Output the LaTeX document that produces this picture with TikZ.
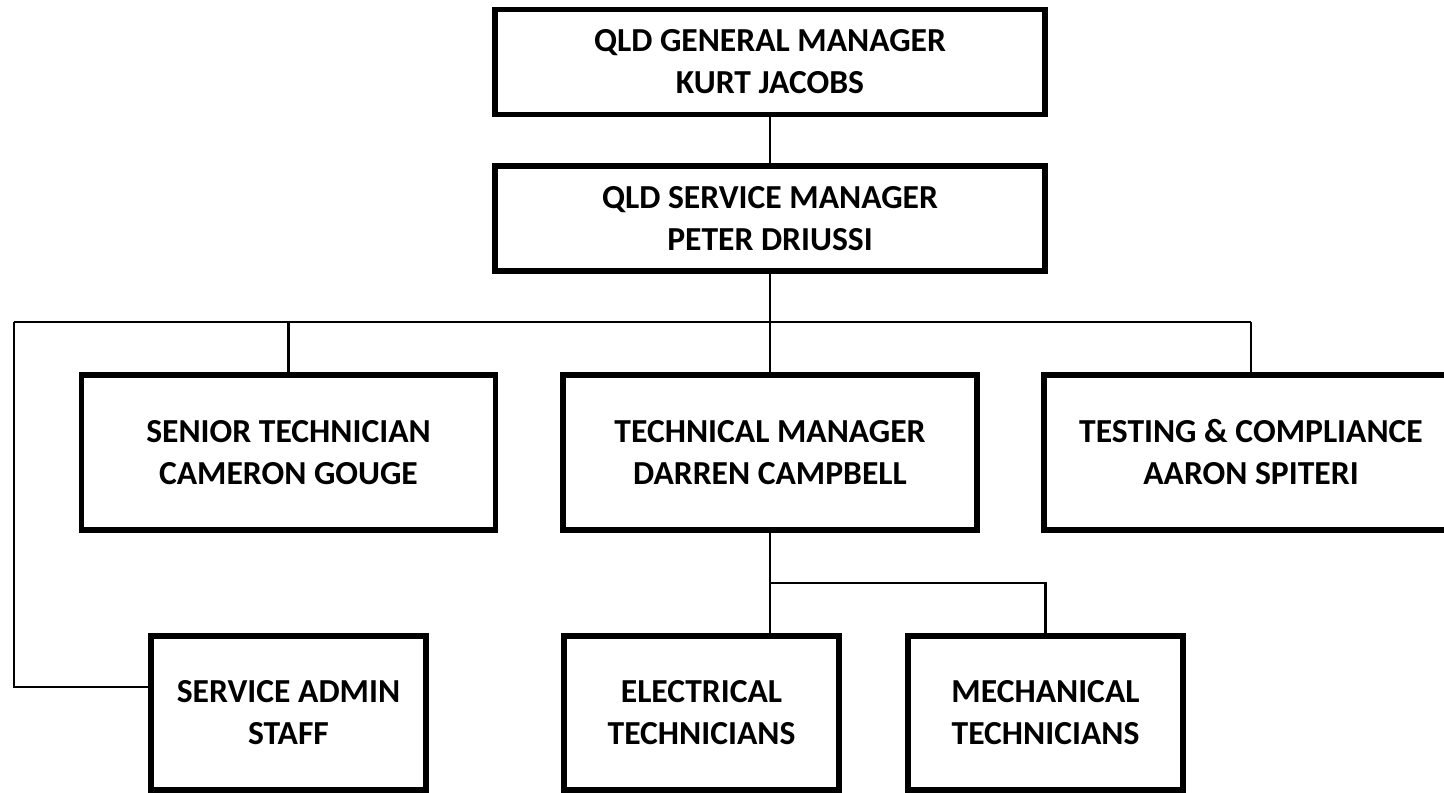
\documentclass[tikz,border=0pt]{standalone}
\usepackage{fontspec}
\setmainfont{Carlito}

\begin{document}
\begin{tikzpicture}[x=0.5pt,y=-0.5pt,
  box/.style={draw,rectangle,line width=2.75pt,align=center,inner sep=0pt,
              font=\fontsize{16.8}{21}\selectfont\bfseries},
  wide/.style={box,minimum width=275pt,minimum height=52.5pt},
  mid/.style={box,minimum width=207pt,minimum height=77.5pt},
  small/.style={box,minimum width=137.5pt,minimum height=77pt},
  link/.style={draw,line width=1.35pt}]
 \useasboundingbox (0,0) rectangle (1444,792);
 \clip (0,0) rectangle (1444,792);
 % \draw[help lines] (0,0) grid[step=100] (1444,792);
  \node[wide]  (gm) at (770,62)    {QLD GENERAL MANAGER\\KURT JACOBS};
  \node[wide]  (sm) at (770,218.5) {QLD SERVICE MANAGER\\PETER DRIUSSI};
  \node[mid]   (st) at (288.5,452.5) {SENIOR TECHNICIAN\\CAMERON GOUGE};
  \node[mid]   (tm) at (770,452.5)   {TECHNICAL MANAGER\\DARREN CAMPBELL};
  \node[mid]   (tc) at (1251,452.5)  {TESTING \& COMPLIANCE\\AARON SPITERI};
  \node[small] (sa) at (288.5,713) {SERVICE ADMIN\\STAFF};
  \node[small] (el) at (701.5,713) {ELECTRICAL\\TECHNICIANS};
  \node[small] (me) at (1045.5,713) {MECHANICAL\\TECHNICIANS};
  \coordinate (busL) at (14,322);
  \coordinate (bus)  at (770,322);
  \coordinate (busR) at (1251,322);
  \coordinate (adminjoin) at (151,687);
  \coordinate (techbus) at (770,583);
  \path[link] (gm) -- (sm)
              (sm.south) -- (bus)
              (busL) -- (busR)
              (st.north |- bus) -- (st.north)
              (bus) -- (tm.north)
              (busR) -- (tc.north)
              (busL) |- (adminjoin)
              (tm.south) -- (el.north -| techbus)
              (techbus) -| (me.north);
 \end{tikzpicture}
\end{document}
